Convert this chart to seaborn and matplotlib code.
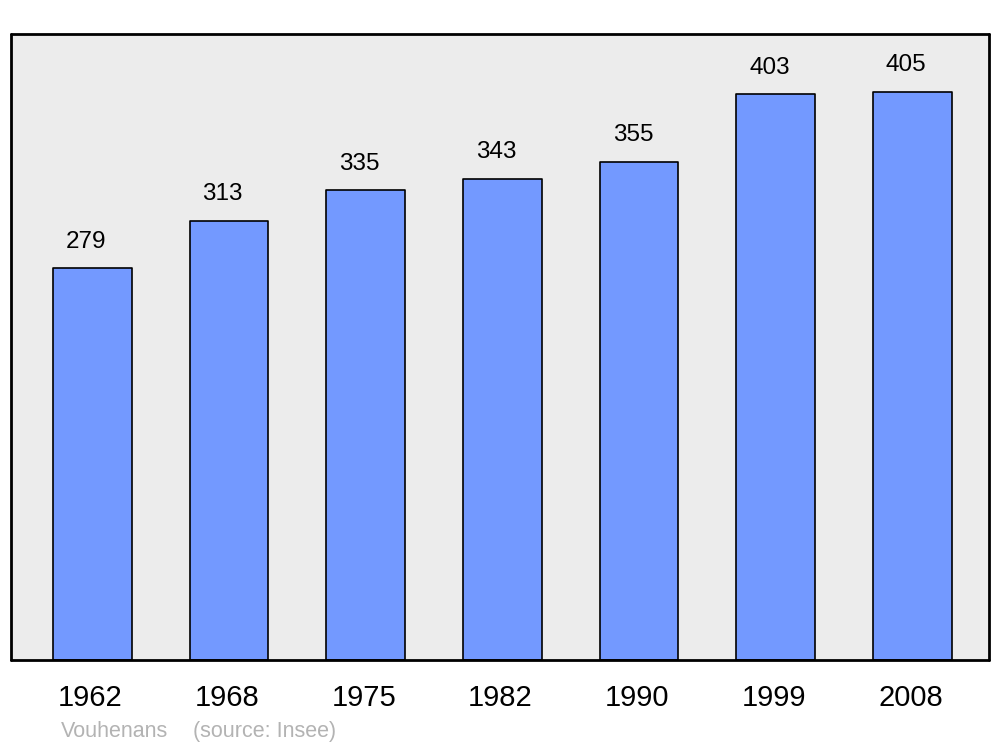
import matplotlib
matplotlib.use("Agg")
import matplotlib.pyplot as plt
import matplotlib.transforms as mtransforms
import seaborn as sns
import pandas as pd

years = ["1962", "1968", "1975", "1982", "1990", "1999", "2008"]
population = [279, 313, 335, 343, 355, 403, 405]
commune = "Vouhenans"
source = "(source: Insee)"

sns.set_theme(style="white")
plt.rcParams["font.family"] = ["Liberation Sans", "DejaVu Sans"]

df = pd.DataFrame({"year": years, "pop": population})

fig = plt.figure(figsize=(10, 7.47), dpi=100)
ax = fig.add_axes([0.011, 87 / 747, 0.978, 626 / 747])
ax.set_facecolor("#ececec")

sns.barplot(data=df, x="year", y="pop", ax=ax, color="#7399ff", saturation=1,
            width=0.575, edgecolor="black", linewidth=1.2)
for p in ax.patches:
    p.set_joinstyle("round")

texts = ax.bar_label(ax.containers[0], labels=[str(v) for v in population],
                     padding=11, fontsize=17.5, color="black")
for t in texts:
    t.xyann = (-4.5, 11)

ax.set_xlim(-0.595, 6.56)
ax.set_ylim(0, 446)
ax.set_xlabel("")
ax.set_ylabel("")
ax.set_yticks([])
ax.tick_params(axis="x", length=0, pad=17, labelsize=21, labelcolor="black")
shift = mtransforms.ScaledTranslation(-2 / 100, 0, fig.dpi_scale_trans)
for lbl in ax.get_xticklabels():
    lbl.set_transform(lbl.get_transform() + shift)
for s in ax.spines.values():
    s.set_visible(True)
    s.set_color("black")
    s.set_linewidth(2)
    s.set_capstyle("round")
    s.set_joinstyle("round")

fig.text(0.061, 1 - 737 / 747, commune, fontsize=15.5, color="#b3b3b3", va="baseline")
fig.text(0.193, 1 - 737 / 747, source, fontsize=15.5, color="#b3b3b3", va="baseline")

fig.savefig("out.png", dpi=100, facecolor="white")
